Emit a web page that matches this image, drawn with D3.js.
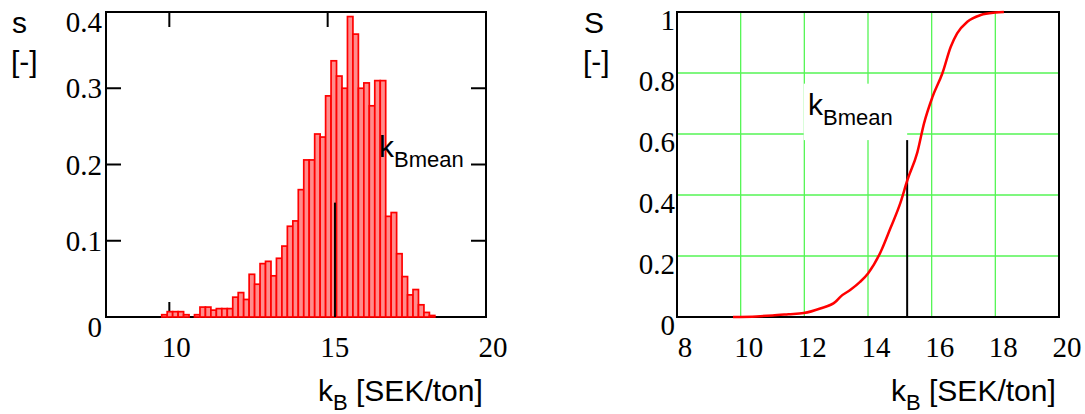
<!DOCTYPE html>
<html>
<head>
<meta charset="utf-8">
<script src="https://cdn.jsdelivr.net/npm/d3@7"></script>
<style>
  body { margin: 0; background: #fff; }
  svg text.tick { font-family: "Liberation Serif", "DejaVu Serif", "Times New Roman", Times, serif; font-size: 29px; }
  svg text.lbl { font-family: "Liberation Sans", Arial, "DejaVu Sans", sans-serif; font-size: 30px; }
</style>
</head>
<body>
<div class="article"></div>
<script>
//histogram of k_B (left panel), bins
var binStart = 9.76;
var binWidth = 0.1725;
var freq = [0.003, 0.007, 0.007, 0.007, 0.003, 0, 0.003, 0.013, 0.013, 0.009,
            0.011, 0.011, 0.011, 0.026, 0.032, 0.023, 0.056, 0.043, 0.070, 0.073,
            0.054, 0.077, 0.093, 0.119, 0.126, 0.167, 0.206, 0.206, 0.240, 0.236,
            0.290, 0.336, 0.316, 0.300, 0.394, 0.371, 0.300, 0.307, 0.277, 0.310,
            0.310, 0.132, 0.137, 0.083, 0.053, 0.029, 0.036, 0.016, 0.006, 0.002];

//cumulative curve (right panel)
var cdfK = [9.76, 10.5, 11.0, 11.5, 11.98, 12.5, 12.98, 13.14, 13.45, 13.75, 14.0,
            14.4, 14.7, 15.02, 15.24, 15.55, 15.76, 16.02, 16.34, 16.6, 16.8,
            17.12, 17.54, 18.0, 18.27];
var cdfS = [0, 0.002, 0.005, 0.009, 0.013, 0.028, 0.05, 0.067, 0.089, 0.115, 0.143,
            0.214, 0.29, 0.375, 0.45, 0.54, 0.635, 0.72, 0.80, 0.886, 0.93,
            0.968, 0.99, 0.998, 1.0];

//mean marker
var kMean = 15.23;
var meanTopLeft = 0.15;
var meanTopRight = 0.58;

//tick values
var leftXTicks = [10, 15, 20];
var leftYTicks = [0, 0.1, 0.2, 0.3, 0.4];
var rightXTicks = [8, 10, 12, 14, 16, 18, 20];
var rightYTicks = [0, 0.2, 0.4, 0.6, 0.8, 1];

var svgWidth = 1085;
var svgHeight = 414;

var svg = d3.select(".article")
  .append("svg")
  .attr("width", svgWidth)
  .attr("height", svgHeight);

svg.append("rect").attr("width", svgWidth).attr("height", svgHeight).attr("fill", "#fff");

// ---------- left panel ----------
var xLeft = d3.scaleLinear().domain([8, 20]).range([106, 486]);
var yLeft = d3.scaleLinear().domain([0, 0.4]).range([317, 12]);
var tickLen = 15;

var left = svg.append("g");

// inner ticks on all four sides
leftXTicks.filter(d => d < 20).forEach(d => {
  left.append("line")
    .attr("x1", xLeft(d)).attr("x2", xLeft(d))
    .attr("y1", yLeft(0.4)).attr("y2", yLeft(0.4) + tickLen)
    .attr("stroke", "#000").attr("stroke-width", 2);
  left.append("line")
    .attr("x1", xLeft(d)).attr("x2", xLeft(d))
    .attr("y1", yLeft(0)).attr("y2", yLeft(0) - tickLen)
    .attr("stroke", "#000").attr("stroke-width", 2);
});
leftYTicks.filter(d => d > 0 && d < 0.4).forEach(d => {
  left.append("line")
    .attr("x1", xLeft(8)).attr("x2", xLeft(8) + tickLen)
    .attr("y1", yLeft(d)).attr("y2", yLeft(d))
    .attr("stroke", "#000").attr("stroke-width", 2);
  left.append("line")
    .attr("x1", xLeft(20)).attr("x2", xLeft(20) - tickLen)
    .attr("y1", yLeft(d)).attr("y2", yLeft(d))
    .attr("stroke", "#000").attr("stroke-width", 2);
});

left.append("rect")
  .attr("x", xLeft(8)).attr("y", yLeft(0.4))
  .attr("width", xLeft(20) - xLeft(8)).attr("height", yLeft(0) - yLeft(0.4))
  .attr("fill", "none").attr("stroke", "#000").attr("stroke-width", 2);

left.selectAll("rect.bar")
  .data(freq)
  .enter()
  .append("rect")
  .attr("class", "bar")
  .attr("x", (d, i) => xLeft(binStart + i * binWidth))
  .attr("y", d => yLeft(d))
  .attr("width", (d, i) => xLeft(binStart + (i + 1) * binWidth) - xLeft(binStart + i * binWidth))
  .attr("height", d => yLeft(0) - yLeft(d))
  .attr("fill", "#ff8c8c")
  .attr("stroke", "#ff0000")
  .attr("stroke-width", 1.7);

left.append("line")
  .attr("x1", xLeft(kMean)).attr("x2", xLeft(kMean))
  .attr("y1", yLeft(0)).attr("y2", yLeft(meanTopLeft))
  .attr("stroke", "#000").attr("stroke-width", 2);

// tick labels
left.selectAll("text.xl")
  .data(leftXTicks)
  .enter().append("text")
  .attr("class", "tick")
  .attr("x", d => xLeft(d) + 7)
  .attr("y", 357)
  .attr("text-anchor", "middle")
  .text(d => d);

left.selectAll("text.yl")
  .data(leftYTicks)
  .enter().append("text")
  .attr("class", "tick")
  .attr("x", 102)
  .attr("y", d => yLeft(d) + ((d === 0 || d === 0.4) ? 10 : 0))
  .attr("dy", "0.35em")
  .attr("text-anchor", "end")
  .text(d => d);

left.append("text").attr("class", "lbl").attr("x", 12).attr("y", 33).text("s");
left.append("text").attr("class", "lbl").attr("x", 11).attr("y", 72).text("[-]");

var lm = left.append("text").attr("class", "lbl").attr("x", 379).attr("y", 157);
lm.append("tspan").text("k");
lm.append("tspan").attr("dy", 10).style("font-size", "22px").text("Bmean");

var lx = left.append("text").attr("class", "lbl").attr("x", 318).attr("y", 401);
lx.append("tspan").text("k");
lx.append("tspan").attr("dy", 9).style("font-size", "22px").text("B");
lx.append("tspan").attr("dy", -9).text(" [SEK/ton]");

// ---------- right panel ----------
var xRight = d3.scaleLinear().domain([8, 20]).range([677, 1059]);
var yRight = d3.scaleLinear().domain([0, 1]).range([317, 12]);

var right = svg.append("g");

right.selectAll("line.vg")
  .data(rightXTicks.filter(d => d > 8 && d < 20))
  .enter().append("line")
  .attr("x1", d => xRight(d)).attr("x2", d => xRight(d))
  .attr("y1", yRight(0)).attr("y2", yRight(1))
  .attr("stroke", "#55f555").attr("stroke-width", 1.3);

right.selectAll("line.hg")
  .data(rightYTicks.filter(d => d > 0 && d < 1))
  .enter().append("line")
  .attr("x1", xRight(8)).attr("x2", xRight(20))
  .attr("y1", d => yRight(d)).attr("y2", d => yRight(d))
  .attr("stroke", "#55f555").attr("stroke-width", 1.3);

// white box behind the mean label
right.append("rect")
  .attr("x", xRight(11.98)).attr("y", yRight(0.765))
  .attr("width", xRight(kMean) - xRight(11.98)).attr("height", yRight(meanTopRight) - yRight(0.765))
  .attr("fill", "#fff");

right.append("rect")
  .attr("x", xRight(8)).attr("y", yRight(1))
  .attr("width", xRight(20) - xRight(8)).attr("height", yRight(0) - yRight(1))
  .attr("fill", "none").attr("stroke", "#000").attr("stroke-width", 2);

right.append("line")
  .attr("x1", xRight(kMean)).attr("x2", xRight(kMean))
  .attr("y1", yRight(0)).attr("y2", yRight(meanTopRight))
  .attr("stroke", "#000").attr("stroke-width", 2);

var line = d3.line()
  .x((d, i) => xRight(cdfK[i]))
  .y(d => yRight(d))
  .curve(d3.curveMonotoneX);

right.append("path")
  .datum(cdfS)
  .attr("d", line)
  .attr("fill", "none")
  .attr("stroke", "#ff0000")
  .attr("stroke-width", 2.5);

right.selectAll("text.xl")
  .data(rightXTicks)
  .enter().append("text")
  .attr("class", "tick")
  .attr("x", d => xRight(d) + 8)
  .attr("y", 357)
  .attr("text-anchor", "middle")
  .text(d => d);

right.selectAll("text.yl")
  .data(rightYTicks)
  .enter().append("text")
  .attr("class", "tick")
  .attr("x", 675)
  .attr("y", d => yRight(d) + 8)
  .attr("dy", "0.35em")
  .attr("text-anchor", "end")
  .text(d => d);

right.append("text").attr("class", "lbl").attr("x", 584).attr("y", 33).text("S");
right.append("text").attr("class", "lbl").attr("x", 583).attr("y", 72).text("[-]");

var rm = right.append("text").attr("class", "lbl").attr("x", 808).attr("y", 115);
rm.append("tspan").text("k");
rm.append("tspan").attr("dy", 10).style("font-size", "22px").text("Bmean");

var rx = right.append("text").attr("class", "lbl").attr("x", 891).attr("y", 401);
rx.append("tspan").text("k");
rx.append("tspan").attr("dy", 9).style("font-size", "22px").text("B");
rx.append("tspan").attr("dy", -9).text(" [SEK/ton]");
</script>
</body>
</html>
